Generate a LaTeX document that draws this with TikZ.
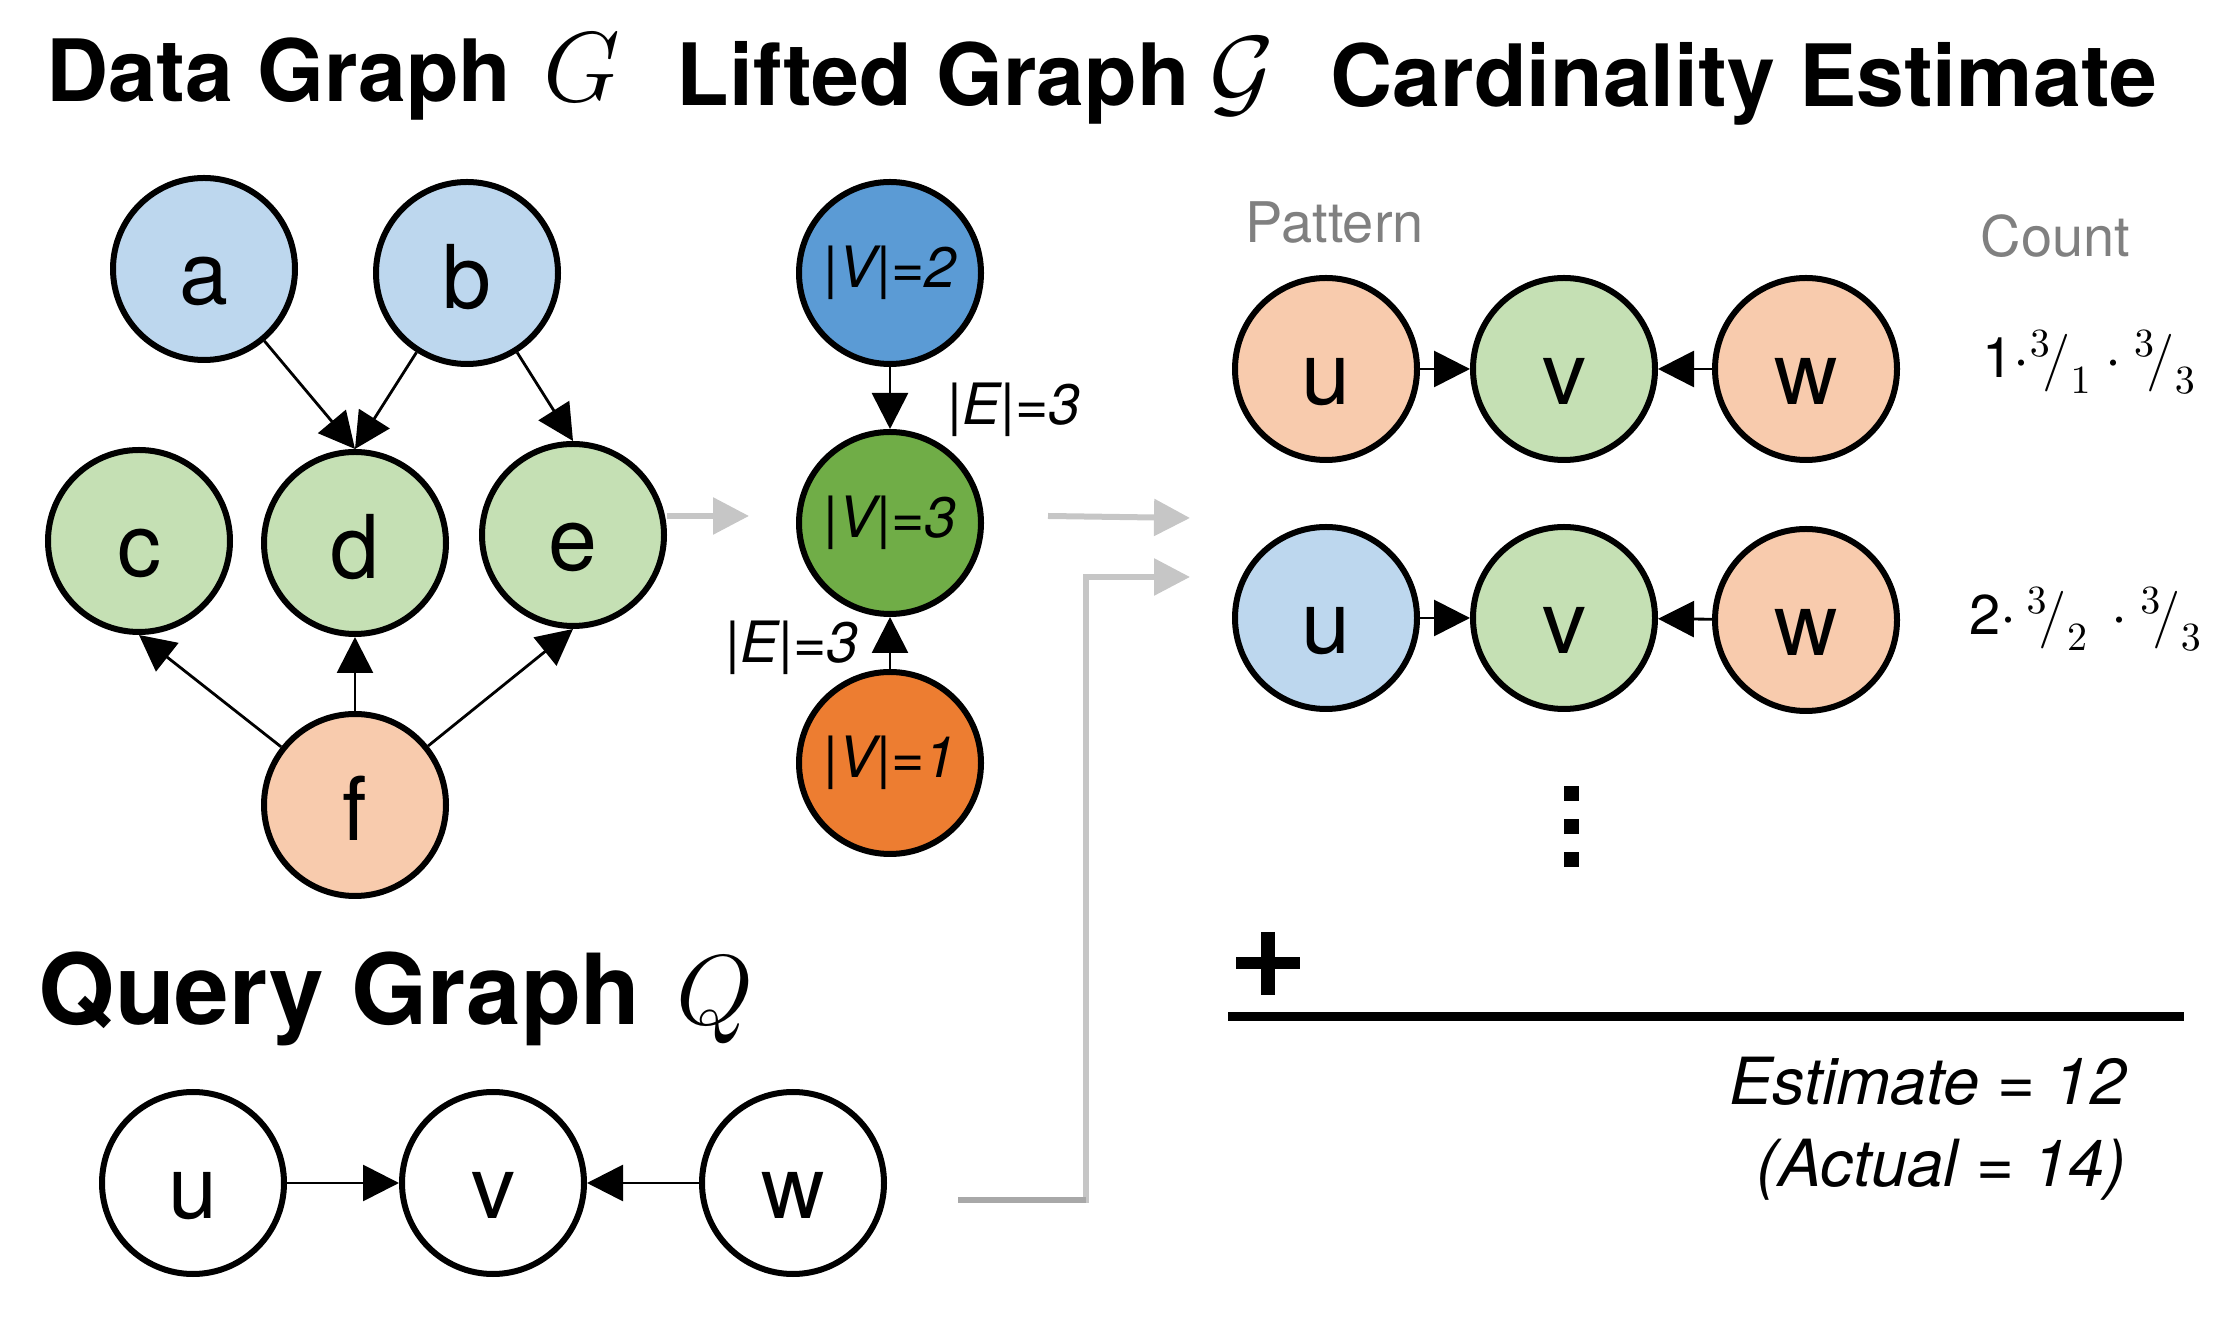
\documentclass[tikz,border=0pt]{standalone}
\usepackage{fontspec}
\setmainfont{TeX Gyre Heros}
\usetikzlibrary{arrows.meta}
\definecolor{lblue}{HTML}{BDD7EE}
\definecolor{lgreen}{HTML}{C5E0B4}
\definecolor{lorange}{HTML}{F8CBAD}
\definecolor{dblue}{HTML}{5B9BD5}
\definecolor{dgreen}{HTML}{70AD47}
\definecolor{dorange}{HTML}{ED7D31}
\definecolor{arrgray}{HTML}{C6C6C6}
\definecolor{arrgrayd}{HTML}{A8A8A8}
\definecolor{lblgray}{HTML}{808080}
\begin{document}
\begin{tikzpicture}[x=0.25pt,y=-0.25pt,
 vtx/.style={circle,draw=black,line width=1.5pt,minimum size=45.5pt,inner sep=0pt,text height=18pt,text depth=0pt,font=\fontsize{22}{26}\selectfont},
 lvtx/.style={circle,draw=black,line width=1.5pt,minimum size=45.5pt,inner sep=0pt,font=\fontsize{14.25}{17}\selectfont\itshape},
 edge/.style={line width=0.7pt,-{Triangle[length=9pt,width=9pt]}},
 garr/.style={draw=arrgray,line width=1.5pt,-{Triangle[length=9pt,width=9pt]}},
 ttl/.style={anchor=base west,inner sep=0pt,font=\fontsize{21.5}{26}\selectfont\bfseries},
 lbl/.style={inner sep=0pt,font=\fontsize{14.25}{17}\selectfont\itshape},
 glbl/.style={anchor=base west,inner sep=0pt,text=lblgray,font=\fontsize{14}{17}\selectfont},
 cnt/.style={anchor=west,inner sep=0pt,font=\fontsize{14}{16}\selectfont},
 est/.style={anchor=base east,inner sep=0pt,font=\fontsize{16.25}{20}\selectfont\itshape},
]
\useasboundingbox (0,0) rectangle (2227,1323);

% titles
\node[ttl] (t1) at (46,102) {Data Graph\hspace{8pt}{\fontsize{23}{26}\selectfont$G$}};
\node[ttl] (t2) at (676,106) {Lifted Graph\hspace{5pt}{\fontsize{23}{26}\selectfont$\mathcal{G}$}};
\node[ttl] (t3) at (1330,107) {Cardinality Estimate};
\node[ttl,font=\fontsize{24.5}{28}\selectfont\bfseries] (t4) at (38,1025) {Query Graph\hspace{9pt}{\fontsize{25}{28}\selectfont$Q$}};

% data graph
\node[vtx,fill=lblue] (a) at (204,269) {a};
\node[vtx,fill=lblue] (b) at (467,273) {b};
\node[vtx,fill=lgreen] (c) at (139,541) {c};
\node[vtx,fill=lgreen] (d) at (355,543) {d};
\node[vtx,fill=lgreen] (e) at (573,535) {e};
\node[vtx,fill=lorange] (f) at (355,805) {f};
\draw[edge] (a) -- (d.north);
\draw[edge] (b) -- (d.north);
\draw[edge] (b) -- (e.north);
\draw[edge] (f) -- (c.south);
\draw[edge] (f) -- (d);
\draw[edge] (f) -- (e.south);

% lifted graph
\node[lvtx,fill=dblue] (l2) at (890,273) {|V|=2};
\node[lvtx,fill=dgreen] (l3) at (890,523) {|V|=3};
\node[lvtx,fill=dorange] (l1) at (890,763) {|V|=1};
\draw[edge] (l2) -- (l3);
\draw[edge] (l1) -- (l3);
\node[lbl,anchor=west] (e1) at (947,410) {|E|=3};
\node[lbl,anchor=east] (e2) at (859,648) {|E|=3};

% query graph
\node[vtx,fill=white] (qu) at (193,1183) {u};
\node[vtx,fill=white] (qv) at (493,1183) {v};
\node[vtx,fill=white] (qw) at (793,1183) {w};
\draw[edge] (qu) -- (qv);
\draw[edge] (qw) -- (qv);

% patterns
\node[glbl] (pat) at (1245,243) {Pattern};
\node[glbl] (cntl) at (1980,257) {Count};
\node[vtx,fill=lorange] (p1u) at (1326,369) {u};
\node[vtx,fill=lgreen] (p1v) at (1564,369) {v};
\node[vtx,fill=lorange] (p1w) at (1806,369) {w};
\draw[edge] (p1u) -- (p1v);
\draw[edge] (p1w) -- (p1v);
\node[vtx,fill=lblue] (p2u) at (1326,618) {u};
\node[vtx,fill=lgreen] (p2v) at (1564,618) {v};
\node[vtx,fill=lorange] (p2w) at (1806,620) {w};
\draw[edge] (p2u) -- (p2v);
\draw[edge] (p2w) -- (p2v);
\node[cnt] (c1) at (1982,362) {1$\cdot^{3}\!\big/_{1}\cdot{}^{3}\!\big/_{3}$};
\node[cnt] (c2) at (1969,619) {2$\cdot\,{}^{3}\!\big/_{2}\,\cdot{}^{3}\!\big/_{3}$};

% dots, plus, rule
\fill (1563.5,786) rectangle (1578.5,801);
\fill (1563.5,819) rectangle (1578.5,834);
\fill (1563.5,852) rectangle (1578.5,867);
\draw[line width=2.9pt] (1236,963) -- (1300,963);
\draw[line width=3.6pt] (1268,932) -- (1268,995);
\draw[line width=2.25pt] (1228,1017) -- (2184,1017);

\node[est] (est1) at (2127,1105) {Estimate = 12};
\node[est] (est2) at (2127,1187) {(Actual = 14)};

% gray connectors
\coordinate (g1e) at (749,516);
\draw[garr] (e.east |- g1e) -- (g1e);
\coordinate (g2s) at (1048,516);
\coordinate (g2e) at (1190,518);
\draw[garr] (g2s) -- (g2e);
\coordinate (g3s) at (958,1200);
\coordinate (g3k) at (1086,577);
\coordinate (g3e) at (1190,577);
\draw[garr] (g3s) -| (g3k) -- (g3e);
\draw[draw=arrgrayd,line width=1.5pt] (g3s) -- (g3s -| g3k);
\end{tikzpicture}
\end{document}
